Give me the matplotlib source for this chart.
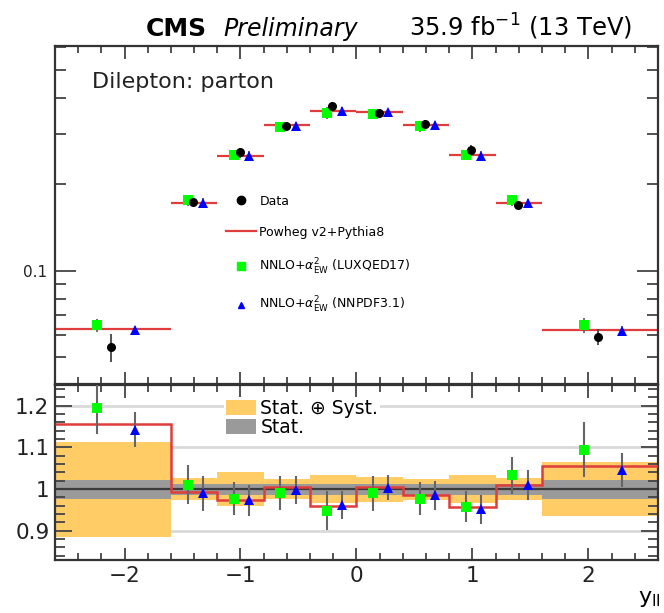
import numpy as np
import matplotlib.pyplot as plt
from matplotlib import ticker
from matplotlib.lines import Line2D
from matplotlib.patches import Patch

# bins in y_ll
edges = [-2.6, -1.6, -1.2, -0.8, -0.4, 0.0, 0.4, 0.8, 1.2, 1.6, 2.6]

# normalised cross section, data
data = [0.0543, 0.174, 0.258, 0.320, 0.373, 0.355, 0.325, 0.264, 0.170, 0.059]
tot_unc = [0.114, 0.026, 0.040, 0.024, 0.034, 0.030, 0.025, 0.034, 0.027, 0.064]
stat_unc = [0.023, 0.013, 0.013, 0.013, 0.013, 0.013, 0.013, 0.013, 0.013, 0.023]

# theory / data
powheg_ratio = [1.156, 0.992, 0.975, 1.005, 0.960, 1.005, 0.986, 0.956, 1.011, 1.055]
lux_ratio = [1.194, 1.011, 0.977, 0.990, 0.948, 0.990, 0.977, 0.958, 1.033, 1.095]
lux_err = [0.062, 0.046, 0.039, 0.041, 0.047, 0.042, 0.040, 0.037, 0.045, 0.066]
nnpdf_ratio = [1.142, 0.990, 0.973, 0.998, 0.962, 1.003, 0.985, 0.952, 1.009, 1.045]
nnpdf_err = [0.042, 0.042, 0.038, 0.034, 0.033, 0.030, 0.035, 0.035, 0.036, 0.041]

RED = '#e03c3c'
GREEN = '#00ff00'
BLUE = '#0000ff'
ORANGE = '#ffcc66'
GREY = '#9a9a9a'
ERR = '#666666'

e = np.array(edges)
lo, hi = e[:-1], e[1:]
cen = 0.5 * (lo + hi)
wid = hi - lo
d = np.array(data)

x_lux = cen - 0.14 * wid
x_dat = cen - 0.02 * wid
x_nnp = cen + 0.19 * wid

fig = plt.figure(figsize=(6.64, 6.13), dpi=100)
ax = fig.add_axes([0.0828, 0.3736, 0.908, 0.5514])
rax = fig.add_axes([0.0828, 0.0865, 0.908, 0.2855])

# upper panel
ax.set_yscale('log')
ax.hlines(d * np.array(powheg_ratio), lo, hi, color=RED, lw=1.6, zorder=2)
ax.errorbar(x_lux, d * np.array(lux_ratio), yerr=d * np.array(lux_err),
            fmt='s', color=GREEN, ecolor=ERR, elinewidth=1.3, ms=6.5, mew=0, zorder=3)
ax.errorbar(x_nnp, d * np.array(nnpdf_ratio), yerr=d * np.array(nnpdf_err),
            fmt='^', color=BLUE, ecolor=ERR, elinewidth=1.3, ms=6.5, mew=0, zorder=3)
ax.errorbar(x_dat, d, yerr=d * np.array(tot_unc),
            fmt='o', color='black', ecolor='#444444', elinewidth=1.3, ms=6.5, mew=0, zorder=4)

ax.set_xlim(-2.6, 2.6)
ax.set_ylim(0.0404, 0.605)
ax.yaxis.set_major_locator(ticker.FixedLocator([0.1]))
ax.yaxis.set_major_formatter(ticker.FuncFormatter(lambda v, p: f'{v:g}'))
ax.yaxis.set_minor_locator(ticker.LogLocator(subs=np.arange(2, 10)))
ax.yaxis.set_minor_formatter(ticker.NullFormatter())
ax.tick_params(labelbottom=False)

ax.text(0.061, 0.893, 'Dilepton: parton', transform=ax.transAxes,
        fontsize=16, va='center', ha='left', color='#222222')

handles = [
    Line2D([], [], marker='o', color='black', ls='none', ms=6),
    Line2D([], [], color=RED, lw=1.6),
    Line2D([], [], marker='s', color=GREEN, ls='none', ms=6),
    Line2D([], [], marker='^', color=BLUE, ls='none', ms=5),
]
labels = ['Data', 'Powheg v2+Pythia8',
          r'NNLO+$\alpha^{2}_{\mathrm{EW}}$ (LUXQED17)',
          r'NNLO+$\alpha^{2}_{\mathrm{EW}}$ (NNPDF3.1)']
ax.legend(handles, labels, loc='upper left', bbox_to_anchor=(0.283, 0.56),
          frameon=False, fontsize=9, handlelength=2.4, handletextpad=0.3,
          labelspacing=1.45, borderpad=0, borderaxespad=0)

# ratio panel
for g in (0.9, 1.1, 1.2):
    rax.axhline(g, color='#d9d9d9', lw=2, zorder=0)
rax.bar(cen, 2 * np.array(tot_unc), bottom=1 - np.array(tot_unc), width=wid,
        color=ORANGE, lw=0, zorder=1)
rax.bar(cen, 2 * np.array(stat_unc), bottom=1 - np.array(stat_unc), width=wid,
        color=GREY, lw=0, zorder=1)
rax.axhline(1.0, color='#3a3a3a', lw=1.6, zorder=2)
rax.stairs(powheg_ratio, edges, baseline=None, color=RED, lw=1.8, zorder=3)
rax.errorbar(x_lux, lux_ratio, yerr=lux_err, fmt='s', color=GREEN, ecolor=ERR,
             elinewidth=1.5, ms=7, mew=0, zorder=4)
rax.errorbar(x_nnp, nnpdf_ratio, yerr=nnpdf_err, fmt='^', color=BLUE, ecolor=ERR,
             elinewidth=1.5, ms=7, mew=0, zorder=4)

rax.set_xlim(-2.6, 2.6)
rax.set_ylim(0.83, 1.25)
rax.yaxis.set_major_locator(ticker.MultipleLocator(0.1))
rax.yaxis.set_minor_locator(ticker.MultipleLocator(0.02))
rax.yaxis.set_major_formatter(ticker.FuncFormatter(lambda v, p: f'{v:g}'))

leg = rax.legend([Patch(facecolor=ORANGE), Patch(facecolor=GREY)],
                 ['Stat. \u2295 Syst.', 'Stat.'], loc='upper left',
                 bbox_to_anchor=(0.28, 0.93), fontsize=13.5, frameon=True,
                 facecolor='white', edgecolor='none', framealpha=1,
                 handlelength=1.6, handleheight=0.8, handletextpad=0.25,
                 labelspacing=0.0, borderpad=0.1, borderaxespad=0)
leg.set_zorder(5)

for a in (ax, rax):
    a.xaxis.set_major_locator(ticker.MultipleLocator(1))
    a.xaxis.set_minor_locator(ticker.MultipleLocator(0.2))
    a.tick_params(which='both', direction='in', top=True, right=True,
                  color='#444444', width=1.3, labelcolor='#222222')
    a.tick_params(axis='x', which='major', length=9)
    a.tick_params(axis='x', which='minor', length=5)
    for s in a.spines.values():
        s.set_linewidth(1.6)
        s.set_color('#333333')

ax.tick_params(axis='y', which='major', length=15, labelsize=11, pad=6)
ax.tick_params(axis='y', which='minor', length=8)
rax.tick_params(axis='y', which='major', length=12, labelsize=15.5, pad=4)
rax.tick_params(axis='y', which='minor', length=7)
rax.tick_params(axis='x', labelsize=15.5, pad=4)

fig.text(0.995, 0.017, r'y$_{\mathrm{ll}}$', fontsize=16, ha='right', va='baseline')

# header
fig.text(0.22, 0.941, 'CMS', fontsize=18, fontweight='bold', va='baseline', ha='left')
fig.text(0.336, 0.941, 'Preliminary', fontsize=17, fontstyle='italic', va='baseline', ha='left')
fig.text(0.952, 0.941, r'35.9 fb$^{-1}$ (13 TeV)', fontsize=17.5, va='baseline', ha='right')

fig.savefig('out.png', dpi=100)
